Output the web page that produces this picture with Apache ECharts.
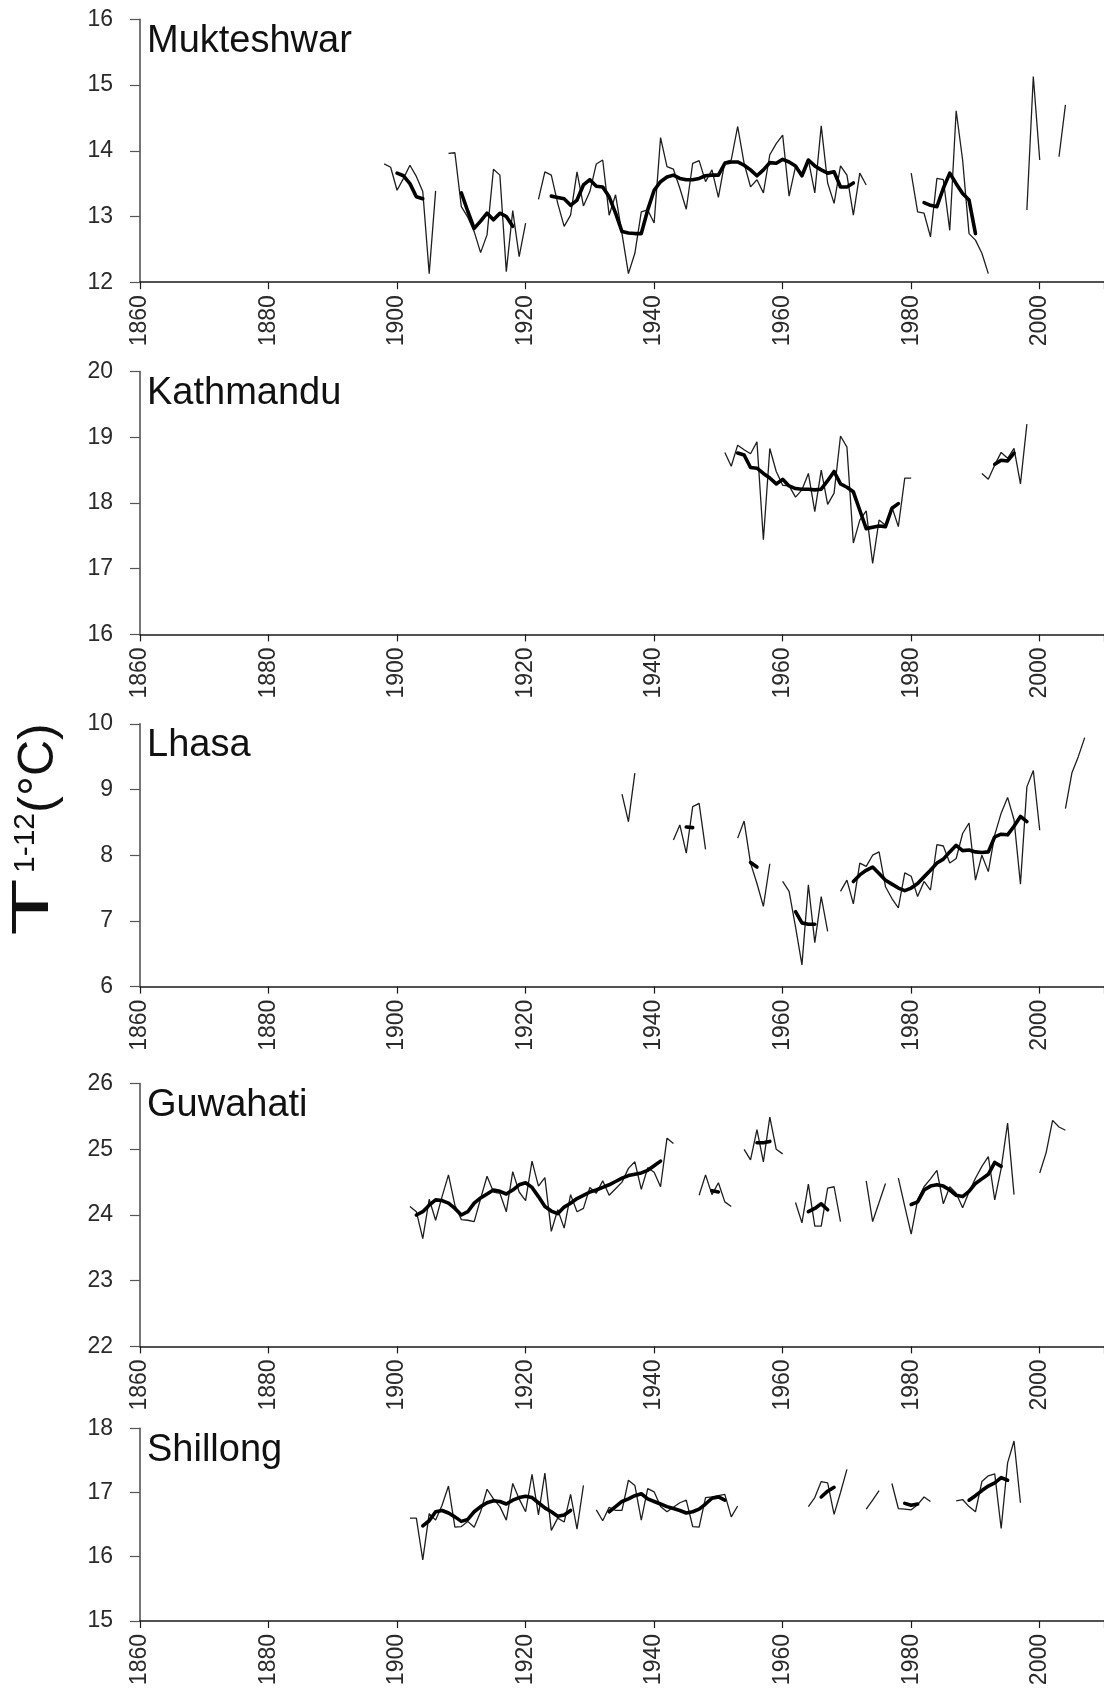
<!DOCTYPE html>
<html>
<head>
<meta charset="utf-8">
<script src="https://cdn.jsdelivr.net/npm/echarts@6/dist/echarts.min.js"></script>
<style>
  html, body { margin: 0; padding: 0; background: #fff; }
  #chart { width: 1104px; height: 1689px; }
</style>
</head>
<body>
<div id="chart"></div>
<script>
// Annual mean temperature (T1-12, °C) per station; null marks a missing year.
// Each *Thin array holds yearly values, each *Thick array the smoothed curve.

const stations = ['Mukteshwar', 'Kathmandu', 'Lhasa', 'Guwahati', 'Shillong'];
const xTicks = [1860, 1880, 1900, 1920, 1940, 1960, 1980, 2000];
const yMins = [12, 16, 6, 22, 15];
const yMaxs = [16, 20, 10, 26, 18];

const mukThinStart = 1898;
const mukThin = [
  13.80, 13.75, 13.40, 13.58, 13.78, 13.61, 13.38, 12.13, 13.39, null,
  13.96, 13.97, 13.15, 12.99, 12.77, 12.45, 12.72, 13.72, 13.63, 12.16, 13.09, 12.39, 12.90, null,
  13.26, 13.68, 13.63, 13.20, 12.85, 13.02, 13.68, 13.16, 13.38, 13.80, 13.86, 13.02, 13.33,
  12.74, 12.13, 12.44, 13.07, 13.10, 12.90, 14.20, 13.76, 13.72, 13.43, 13.11, 13.81, 13.85,
  13.53, 13.71, 13.29, 13.83, 13.86, 14.37, 13.81, 13.45, 13.56, 13.36, 13.94, 14.11, 14.24,
  13.31, 13.76, 13.63, 13.86, 13.36, 14.38, 13.51, 13.20, 13.77, 13.63, 13.02, 13.66, 13.48,
  null, null, null, null, null, null,
  13.66, 13.07, 13.05, 12.69, 13.58, 13.56, 12.79, 14.61, 13.86, 12.74, 12.64, 12.44, 12.13,
  null, null, null, null, null,
  13.10, 15.13, 13.86, null, null, 13.91, 14.70
];
const mukThickStart = 1900;
const mukThick = [
  13.66, 13.62, 13.50, 13.30, 13.27, null, null, null, null, null,
  13.36, 13.08, 12.82, 12.93, 13.05, 12.95, 13.05, 13.00, 12.85, null, null, null, null, null,
  13.31, 13.29, 13.27, 13.17, 13.25, 13.48, 13.56, 13.46, 13.45, 13.30, 13.05, 12.77, 12.75,
  12.74, 12.74, 13.10, 13.40, 13.53, 13.60, 13.63, 13.58, 13.56, 13.56, 13.58, 13.62, 13.63,
  13.63, 13.81, 13.83, 13.83, 13.78, 13.71, 13.62, 13.71, 13.82, 13.81, 13.87, 13.83, 13.77,
  13.62, 13.86, 13.77, 13.71, 13.66, 13.68, 13.45, 13.45, 13.51,
  null, null, null, null, null, null, null, null, null, null,
  13.21, 13.17, 13.15, 13.43, 13.66, 13.50, 13.35, 13.25, 12.74
];

const katThinStart = 1951;
const katThin = [
  18.77, 18.56, 18.88, 18.81, 18.75, 18.93, 17.44, 18.83, 18.48, 18.27, 18.26, 18.09, 18.20,
  18.45, 17.87, 18.50, 17.98, 18.15, 19.02, 18.85, 17.39, 17.74, 17.88, 17.08, 17.74, 17.66,
  17.94, 17.64, 18.38, 18.38,
  null, null, null, null, null, null, null, null, null, null,
  18.45, 18.36, 18.58, 18.77, 18.68, 18.83, 18.29, 19.20
];
const katThickStart = 1953;
const katThick = [
  18.76, 18.73, 18.54, 18.53, 18.45, 18.38, 18.29, 18.36, 18.26, 18.22, 18.21, 18.21, 18.20,
  18.21, 18.34, 18.48, 18.29, 18.24, 18.17, 17.89, 17.61, 17.63, 17.65, 17.64, 17.92, 17.99,
  null, null, null, null, null, null, null, null, null, null, null, null, null, null,
  18.59, 18.65, 18.64, 18.76
];

const lhaThinStart = 1935;
const lhaThin = [
  8.93, 8.51, 9.25, null, null, null, null, null,
  8.23, 8.46, 8.03, 8.74, 8.79, 8.09, null, null, null, null,
  8.26, 8.52, 7.88, 7.57, 7.22, 7.87, null,
  7.60, 7.45, 6.91, 6.33, 7.55, 6.67, 7.37, 6.84, null,
  7.45, 7.62, 7.26, 7.88, 7.83, 8.00, 8.05, 7.52, 7.34, 7.20, 7.73, 7.68, 7.37, 7.60, 7.47,
  8.16, 8.14, 7.88, 7.95, 8.33, 8.49, 7.62, 8.00, 7.75, 8.31, 8.64, 8.88, 8.54, 7.56, 9.04,
  9.29, 8.38, null, null, null,
  8.71, 9.25, 9.50, 9.79
];
const lhaThickStart = 1945;
const lhaThick = [
  8.43, 8.42, null, null, null, null, null, null, null, null,
  7.89, 7.82, null, null, null, null, null,
  7.14, 6.97, 6.95, 6.95, null, null, null, null, null,
  7.60, 7.70, 7.77, 7.82, 7.72, 7.62, 7.56, 7.50, 7.46, 7.50, 7.57, 7.67, 7.77, 7.88,
  7.94, 8.05, 8.15, 8.07, 8.08, 8.05, 8.04, 8.05, 8.28, 8.32, 8.31, 8.44, 8.59, 8.51
];

const guwThinStart = 1902;
const guwThin = [
  24.13, 24.05, 23.64, 24.24, 23.92, 24.28, 24.61, 24.15, 23.93, 23.92, 23.90, 24.25, 24.59,
  24.35, 24.33, 24.05, 24.66, 24.35, 24.22, 24.82, 24.44, 24.57, 23.75, 24.08, 23.80, 24.31,
  24.05, 24.10, 24.42, 24.33, 24.52, 24.30, 24.40, 24.50, 24.71, 24.81, 24.39, 24.72, 24.65,
  24.43, 25.17, 25.09,
  null, null, null,
  24.30, 24.61, 24.31, 24.49, 24.20, 24.13, null,
  25.00, 24.84, 25.30, 24.81, 25.49, 25.00, 24.93, null,
  24.19, 23.88, 24.47, 23.83, 23.83, 24.41, 24.43, 23.90, null, null, null,
  24.52, 23.90, 24.19, 24.48, null,
  24.56, 24.13, 23.71, 24.23, 24.43, 24.55, 24.68, 24.17, 24.43, 24.33, 24.11, 24.35, 24.56,
  24.74, 24.89, 24.23, 24.71, 25.40, 24.31, null, null, null,
  24.64, 24.95, 25.44, 25.34, 25.29
];
const guwThickStart = 1903;
const guwThick = [
  24.00, 24.05, 24.15, 24.23, 24.22, 24.18, 24.10, 24.00, 24.05, 24.18, 24.26, 24.32, 24.38,
  24.36, 24.32, 24.38, 24.46, 24.49, 24.42, 24.28, 24.13, 24.06, 24.02, 24.12, 24.18, 24.25,
  24.30, 24.35, 24.38, 24.42, 24.46, 24.51, 24.56, 24.60, 24.62, 24.64, 24.68, 24.75, 24.82,
  null, null, null, null, null, null, null,
  24.37, 24.35, null, null, null, null, null,
  25.10, 25.10, 25.12, null, null, null, null, null,
  24.05, 24.10, 24.17, 24.08,
  null, null, null, null, null, null, null, null, null, null, null, null,
  24.16, 24.20, 24.38, 24.44, 24.46, 24.44, 24.38, 24.30, 24.28, 24.36, 24.48, 24.55, 24.62,
  24.80, 24.74
];

const shiThinStart = 1902;
const shiThin = [
  16.60, 16.60, 15.95, 16.67, 16.57, 16.80, 17.10, 16.46, 16.47, 16.55, 16.46, 16.70, 17.05,
  16.90, 16.78, 16.57, 17.14, 16.90, 16.70, 17.28, 16.65, 17.30, 16.41, 16.60, 16.54, 16.97,
  16.43, 17.11, null,
  16.73, 16.56, 16.77, 16.72, 16.72, 17.19, 17.11, 16.57, 17.06, 17.01, 16.78, 16.70, 16.77,
  16.84, 16.88, 16.47, 16.46, 16.92, 16.93, 16.95, 16.97, 16.62, 16.79,
  null, null, null, null, null, null, null, null, null, null,
  16.78, 16.92, 17.17, 17.15, 16.66, 17.00, 17.36, null, null,
  16.74, 16.88, 17.03, null,
  17.14, 16.75, 16.74, 16.73, 16.81, 16.93, 16.86, null, null, null,
  16.87, 16.89, 16.78, 16.70, 17.17, 17.26, 17.29, 16.44, 17.46, 17.80, 16.84
];
const shiThickStart = 1904;
const shiThick = [
  16.48, 16.56, 16.70, 16.72, 16.68, 16.62, 16.55, 16.58, 16.70, 16.78, 16.84, 16.87, 16.86,
  16.82, 16.88, 16.92, 16.94, 16.92, 16.84, 16.76, 16.70, 16.63, 16.65, 16.72,
  null, null, null, null, null,
  16.70, 16.78, 16.86, 16.90, 16.95, 16.98, 16.90, 16.86, 16.82, 16.78, 16.75, 16.72, 16.68,
  16.70, 16.74, 16.82, 16.91, 16.93, 16.88,
  null, null, null, null, null, null, null, null, null, null, null, null, null, null,
  16.93, 17.02, 17.08,
  null, null, null, null, null, null, null, null, null, null,
  16.83, 16.80, 16.82,
  null, null, null, null, null, null, null,
  16.88, 16.95, 17.03, 17.10, 17.15, 17.23, 17.19
];

const thinSets = [
  [mukThinStart, mukThin], [katThinStart, katThin], [lhaThinStart, lhaThin],
  [guwThinStart, guwThin], [shiThinStart, shiThin]
];
const thickSets = [
  [mukThickStart, mukThick], [katThickStart, katThick], [lhaThickStart, lhaThick],
  [guwThickStart, guwThick], [shiThickStart, shiThick]
];

// Turn a start year plus yearly values into [year, value] pairs; gaps become '-'.
function toPairs(start, values) {
  return values.map((v, i) => [start + i, v == null ? '-' : v]);
}

const FONT = '"Liberation Sans", Arial, Helvetica, sans-serif';
const gridTops = [19.4, 371.6, 723.8, 1083.6, 1428.2];
const unitPx = 65.7;

const grids = [], xAxes = [], yAxes = [], series = [], graphics = [];

stations.forEach((name, i) => {
  const span = yMaxs[i] - yMins[i];
  const h = i === 4 ? 192.8 : span * unitPx;
  grids.push({ left: 140, right: 0, top: gridTops[i], height: h, outerBoundsMode: 'none', containLabel: false });

  xAxes.push({
    type: 'value', gridIndex: i, min: 1860, max: 2010, interval: 20,
    axisLine: { show: true, onZero: false, lineStyle: { color: '#1a1a1a', width: 1.6 } },
    axisTick: { show: true, length: 7, inside: false, lineStyle: { color: '#1a1a1a', width: 1.2 } },
    axisLabel: {
      show: true, rotate: 90, margin: 13, fontSize: 23, color: '#2a2a2a', fontFamily: FONT,
      formatter: v => (xTicks.indexOf(v) >= 0 ? String(v) : '')
    },
    splitLine: { show: false }
  });

  yAxes.push({
    type: 'value', gridIndex: i, min: yMins[i], max: yMaxs[i], interval: 1,
    axisLine: { show: true, lineStyle: { color: '#555', width: 1.6 } },
    axisTick: { show: true, length: 10, inside: false, lineStyle: { color: '#555', width: 1.2 } },
    axisLabel: { show: true, margin: 27, fontSize: 23, color: '#2a2a2a', fontFamily: FONT,
      formatter: v => String(v) },
    splitLine: { show: false }
  });

  series.push({
    type: 'line', xAxisIndex: i, yAxisIndex: i, name: name + ' annual',
    data: toPairs(thinSets[i][0], thinSets[i][1]),
    symbol: 'none', showSymbol: false, connectNulls: false, silent: true,
    lineStyle: { color: '#1e1e1e', width: 1.3 }, z: 2
  });
  series.push({
    type: 'line', xAxisIndex: i, yAxisIndex: i, name: name + ' smoothed',
    data: toPairs(thickSets[i][0], thickSets[i][1]),
    symbol: 'none', showSymbol: false, connectNulls: false, silent: true,
    lineStyle: { color: '#000', width: 3.6, join: 'round', cap: 'round' }, z: 3
  });

  graphics.push({
    type: 'text', x: 147, y: gridTops[i] + 22,
    style: { text: name, fontSize: 38, fontFamily: FONT, fill: '#111', verticalAlign: 'middle', align: 'left' }
  });
});

// Shared y-axis title "T" with superscript "1-12" and unit, rotated to read bottom-to-top
graphics.push({
  type: 'text', x: 34, y: 907, rotation: Math.PI / 2, scaleX: 1.8, scaleY: 1,
  style: { text: 'T', fontSize: 52, fontFamily: FONT, fill: '#111', align: 'center', verticalAlign: 'middle' }
});
graphics.push({
  type: 'text', x: 26, y: 843, rotation: Math.PI / 2,
  style: { text: '1-12', fontSize: 30, fontFamily: FONT, fill: '#111', align: 'center', verticalAlign: 'middle' }
});
graphics.push({
  type: 'text', x: 39, y: 768, rotation: Math.PI / 2,
  style: { text: '(°C)', fontSize: 50, fontFamily: FONT, fill: '#111', align: 'center', verticalAlign: 'middle' }
});

const chart = echarts.init(document.getElementById('chart'), null, { renderer: 'canvas' });
chart.setOption({
  animation: false,
  backgroundColor: '#fff',
  grid: grids,
  xAxis: xAxes,
  yAxis: yAxes,
  series: series,
  graphic: graphics
});
</script>
</body>
</html>
